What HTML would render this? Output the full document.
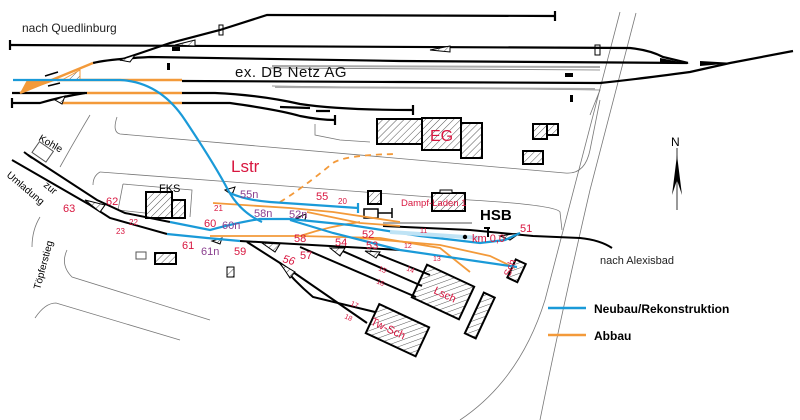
<!DOCTYPE html>
<html><head><meta charset="utf-8"><style>
html,body{margin:0;padding:0;background:#fff}
svg{display:block}
text{font-family:"Liberation Sans",sans-serif}
.r{fill:#d8163f}
.p{fill:#8a3f8f}
</style></head><body>
<svg width="800" height="420" viewBox="0 0 800 420" xmlns="http://www.w3.org/2000/svg">
<defs>
<pattern id="h" patternUnits="userSpaceOnUse" width="5" height="5" patternTransform="rotate(45)">
<rect width="5" height="5" fill="#fff"/><line x1="0" y1="0" x2="0" y2="5" stroke="#555" stroke-width="1"/>
</pattern>
</defs>
<g fill="none" stroke="#777" stroke-width="0.8">
<path d="M620,12 L545,300 Q520,380 460,420"/>
<path d="M636,13 L590,190 Q560,320 540,420"/>
<path d="M117,117 Q112,132 120,134 L565,173 Q585,175 590,150 L600,100"/>
<path d="M90,115 Q75,140 60,167"/>
<path d="M100,172 Q93,176 93,185"/>
<path d="M100,172 L470,200 Q555,205 560,212 L562,230"/>
<path d="M67,250 Q60,265 72,277 L210,320"/>
<path d="M35,318 Q45,303 56,303 L180,340"/>
<path d="M40,217 Q32,230 32,247"/>
<path d="M315,124 L315,135 L340,140 L370,142"/>
<path d="M270,68 L600,70 M272,86 L600,90 L590,115"/>
<path d="M123,184 L192,190 L190,217 M123,184 L118,210 L145,213"/>
</g>
<g fill="none" stroke="#aaa" stroke-width="2">
<path d="M272,66 L600,67 M275,87 L595,89"/>
<path d="M383,223 L472,223"/>
</g>
<g fill="none" stroke="#000" stroke-width="2.2">
<path d="M10,45 L630,48 Q650,50 663,57 L688,63"/>
<path d="M120,60 L170,43 L220,30 L267,15 L555,16"/>
<path d="M93,63 Q110,59 150,57 L400,61 L687,63"/>
<path d="M182,81 L400,82 L600,83 Q630,80 690,72 L730,63 L793,51"/>
<path d="M12,93 L87,93"/>
<path d="M12,103 L40,103 Q60,97 85,93"/>
<path d="M182,93 L215,93 Q260,95 300,104 Q340,110 413,110"/>
<path d="M182,103 L230,103 Q280,110 300,116 Q320,120 335,120"/>
<path d="M10,40 V50 M555,11 V21 M12,98 V108 M413,105 V115 M335,115 V125"/>
<path d="M280,107 L310,108 M316,111 L330,111"/>
</g>
<g fill="#000">
<path d="M660,62 L690,64 L660,58 Z"/>
<path d="M700,66 L735,63 L700,61 Z"/>
<rect x="172" y="47" width="8" height="4"/>
<rect x="167" y="63" width="3" height="7"/>
<rect x="565" y="73" width="8" height="4"/>
<rect x="570" y="95" width="3" height="7"/>
<rect x="595" y="45" width="5" height="10" fill="none" stroke="#000"/>
<rect x="219" y="25" width="4" height="10" fill="none" stroke="#000"/>
</g>
<g stroke="#f39a3a" stroke-width="2.4" fill="none">
<path d="M57,80 L182,80 M87,93 L182,93 M62,103 L182,103 M20,93 L93,63"/>
</g>
<path d="M20,93 L27,80 L57,80 Z" fill="#f39a3a"/>
<path d="M62,80 L80,70 L80,80 Z" fill="url(#h)" stroke="#f39a3a"/>
<path d="M45,76 L58,72 M48,86 L60,83" stroke="#000" stroke-width="1.5"/>
<g stroke="#000" stroke-width="2" fill="url(#h)">
<rect x="377" y="119" width="45" height="25"/>
<rect x="422" y="118" width="39" height="32"/>
<rect x="461" y="123" width="21" height="35"/>
<rect x="533" y="124" width="14" height="15"/>
<rect x="547" y="124" width="11" height="11"/>
<rect x="523" y="151" width="20" height="13"/>
<rect x="146" y="192" width="26" height="26"/>
<rect x="172" y="200" width="13" height="18"/>
<rect x="368" y="191" width="13" height="13"/>
<rect x="432" y="193" width="33" height="18"/>
<rect x="155" y="253" width="21" height="11"/>
<rect x="227" y="267" width="7" height="10" stroke-width="1"/>
<rect x="417" y="274" width="52" height="36" transform="rotate(25 443 292)"/>
<rect x="370" y="314" width="55" height="32" transform="rotate(25 397 330)"/>
<rect x="474" y="293" width="12" height="45" transform="rotate(25 480 315)"/>
<rect x="511" y="261" width="11" height="20" transform="rotate(25 517 271)"/>
</g>
<rect x="136" y="252" width="10" height="7" fill="#fff" stroke="#555"/>
<rect x="34" y="145" width="17" height="13" fill="#fff" stroke="#555" transform="rotate(35 42 152)"/>
<rect x="440" y="190" width="12" height="3" fill="#fff" stroke="#000"/>
<rect x="364" y="209" width="14" height="9" fill="#fff" stroke="#000" stroke-width="1.5"/>
<path d="M378,213 H392 M392,208 V218" stroke="#000" stroke-width="1.5"/>
<g fill="none" stroke="#000" stroke-width="2">
<path d="M28,155 L97,200 L125,213 L170,222"/>
<path d="M12,160 L90,205 L110,218 L167,234"/>
<path d="M240,241 L330,246 L400,250"/>
<path d="M383,226 L470,230 L533,236 L580,238 Q600,240 612,248"/>
<path d="M247,242 L280,263 L367,323"/>
<path d="M280,263 Q293,280 313,297 L375,312"/>
<path d="M300,247 L416,297"/>
<path d="M338,249 L422,286"/>
<path d="M370,251 L430,275"/>
<path d="M24,152 L32,158"/>
<path d="M488,227 V237 M484,228 H490"/>
</g>
<g fill="url(#h)" stroke="#000" stroke-width="1">
<path d="M85,200 L105,205 L100,212 Z"/>
<path d="M262,243 L280,244 L275,252 Z"/>
<path d="M330,248 L345,248 L340,256 Z"/>
<path d="M365,251 L380,252 L376,258 Z"/>
<path d="M280,263 L295,272 L290,278 Z"/>
<path d="M500,236 L520,233 L510,240 Z"/>
<path d="M430,50 L450,46 L450,52 Z"/>
<path d="M175,45 L195,40 L195,46 Z"/>
<path d="M120,60 L135,55 L130,62 Z"/>
<path d="M55,100 L65,96 L62,104 Z"/>
<path d="M225,190 L235,187 L232,195 Z"/>
<path d="M296,218 L306,214 L305,221 Z"/>
<path d="M212,241 L222,238 L220,244 Z"/>
</g>
<g fill="none" stroke="#f39a3a" stroke-width="1.8">
<path d="M280,202 Q300,190 333,163 Q345,155 395,154" stroke-dasharray="6,5"/>
<path d="M213,203 L290,208 L333,212 L400,222"/>
<path d="M307,212 L360,223 L400,226"/>
<path d="M210,236 L300,236 L380,238 L440,248 L470,272"/>
<path d="M360,238 L440,245 L490,256 L515,268"/>
<path d="M300,236 Q330,226 360,222"/>
</g>
<g fill="none" stroke="#1a9ad8" stroke-width="2.2">
<path d="M13,80 L120,80 Q160,82 185,120 Q215,165 228,190 Q240,212 262,222"/>
<path d="M230,193 Q245,200 270,202 L358,208"/>
<path d="M170,222 L210,230 Q240,222 260,219 L290,219 L350,225 L420,236 L480,243 L505,240 L520,233"/>
<path d="M167,234 L207,238 L240,241"/>
<path d="M290,220 L333,233 L400,250 L517,267"/>
<path d="M358,203 V213"/>
</g>
<path d="M390,232 L480,238" stroke="#bfe3f5" stroke-width="4" fill="none"/>
<circle cx="465" cy="237" r="2.2" fill="#000"/>
<path d="M677,148 V210" stroke="#000" stroke-width="0.8"/>
<path d="M677,155 L672,195 L677,180 L682,195 Z" fill="#000"/>
<text x="671" y="146" font-family="Liberation Serif" font-size="12">N</text>
<text x="22" y="32" font-size="12" fill="#222">nach Quedlinburg</text>
<text x="235" y="77" font-size="15" fill="#111" letter-spacing="0.5">ex. DB Netz AG</text>
<text x="38" y="140" font-size="10" transform="rotate(30 38 140)">Kohle</text>
<text x="43" y="186" font-size="10" transform="rotate(40 43 186)">zur</text>
<text x="6" y="176" font-size="10" transform="rotate(40 6 176)">Umladung</text>
<text x="40" y="290" font-size="10" transform="rotate(-75 40 290)">Töpferstieg</text>
<text x="231" y="172" font-size="17" class="r">Lstr</text>
<text x="430" y="141" font-size="16" class="r">EG</text>
<text x="159" y="192" font-size="11">FKS</text>
<text x="480" y="220" font-size="15" font-weight="bold">HSB</text>
<text x="401" y="206" font-size="9.5" class="r">Dampf-Laden 1</text>
<text x="472" y="242" font-size="11" class="r">km 0,0</text>
<text x="520" y="232" font-size="11" class="r">51</text>
<text x="600" y="264" font-size="11" fill="#222">nach Alexisbad</text>
<text x="240" y="198" font-size="11" class="p">55n</text>
<text x="316" y="200" font-size="11" class="r">55</text>
<text x="338" y="204" font-size="8" class="r">20</text>
<text x="214" y="211" font-size="8" class="r">21</text>
<text x="254" y="217" font-size="11" class="p">58n</text>
<text x="289" y="218" font-size="11" class="p">52n</text>
<text x="204" y="227" font-size="11" class="r">60</text>
<text x="222" y="229" font-size="11" class="p">60n</text>
<text x="362" y="238" font-size="11" class="r">52</text>
<text x="294" y="242" font-size="11" class="r">58</text>
<text x="335" y="246" font-size="11" class="r">54</text>
<text x="366" y="249" font-size="11" class="r">53</text>
<text x="182" y="249" font-size="11" class="r">61</text>
<text x="201" y="255" font-size="11" class="p">61n</text>
<text x="234" y="255" font-size="11" class="r">59</text>
<text x="282" y="262" font-size="11" class="r" font-style="italic" transform="rotate(15 282 262)">56</text>
<text x="300" y="259" font-size="11" class="r">57</text>
<text x="106" y="205" font-size="11" class="r">62</text>
<text x="63" y="212" font-size="11" class="r">63</text>
<text x="129" y="225" font-size="8" class="r">22</text>
<text x="116" y="234" font-size="8" class="r">23</text>
<text x="420" y="233" font-size="7" class="r">11</text>
<text x="404" y="248" font-size="7" class="r">12</text>
<text x="433" y="261" font-size="7" class="r">13</text>
<text x="406" y="270" font-size="7" class="r" transform="rotate(25 406 270)">14</text>
<text x="378" y="270" font-size="7" class="r" transform="rotate(25 378 270)">15</text>
<text x="376" y="283" font-size="7" class="r" transform="rotate(25 376 283)">16</text>
<text x="350" y="305" font-size="7" class="r" transform="rotate(25 350 305)">17</text>
<text x="344" y="318" font-size="7" class="r" transform="rotate(25 344 318)">18</text>
<text x="433" y="293" font-size="11" class="r" transform="rotate(25 433 293)">Lsch</text>
<text x="370" y="324" font-size="11" class="r" transform="rotate(25 370 324)">Tw-Sch</text>
<text x="510" y="277" font-size="10" class="r" transform="rotate(-70 510 277)">Sch</text>
<path d="M548,308 H586" stroke="#1a9ad8" stroke-width="2.5"/>
<text x="594" y="313" font-size="12" font-weight="bold">Neubau/Rekonstruktion</text>
<path d="M548,335 H586" stroke="#f39a3a" stroke-width="2.5"/>
<text x="594" y="340" font-size="12" font-weight="bold">Abbau</text>
</svg>
</body></html>
